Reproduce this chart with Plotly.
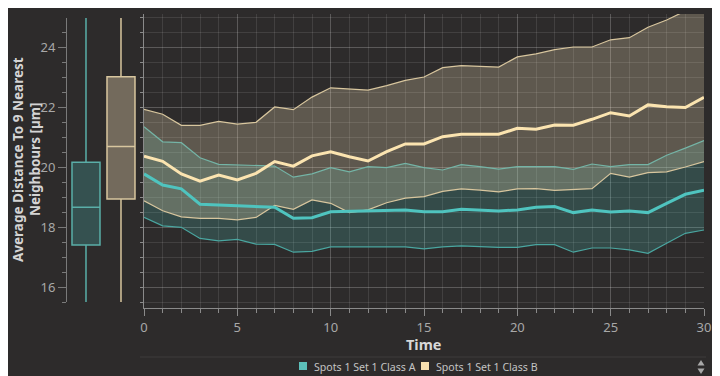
import plotly.graph_objects as go

time = list(range(31))

a_upper = [21.34, 20.84, 20.81, 20.31, 20.09, 20.07, 20.07, 20.03, 19.66, 19.77, 19.98, 19.84, 20.01, 19.98, 20.12, 19.98,
           19.90, 20.08, 20.01, 19.93, 20.01, 20.01, 20.01, 19.92, 20.10, 20.01, 20.08, 20.08, 20.39, 20.63, 20.88]
a_median = [19.77, 19.40, 19.27, 18.76, 18.73, 18.70, 18.68, 18.66, 18.29, 18.31, 18.51, 18.53, 18.54, 18.57, 18.57, 18.51,
            18.51, 18.59, 18.57, 18.53, 18.57, 18.66, 18.68, 18.48, 18.57, 18.50, 18.53, 18.48, 18.79, 19.09, 19.23]
a_lower = [18.32, 18.04, 17.99, 17.62, 17.54, 17.59, 17.43, 17.42, 17.16, 17.19, 17.34, 17.34, 17.32, 17.32, 17.34, 17.27,
           17.34, 17.37, 17.34, 17.32, 17.32, 17.41, 17.41, 17.16, 17.30, 17.30, 17.24, 17.12, 17.46, 17.79, 17.90]

b_upper = [21.92, 21.76, 21.39, 21.39, 21.52, 21.43, 21.49, 22.00, 21.91, 22.33, 22.64, 22.59, 22.56, 22.71, 22.89, 23.00,
           23.31, 23.38, 23.36, 23.33, 23.67, 23.77, 23.91, 24.00, 24.00, 24.24, 24.31, 24.66, 24.90, 25.20, 25.45]
b_median = [20.36, 20.19, 19.77, 19.53, 19.73, 19.57, 19.79, 20.18, 20.03, 20.37, 20.51, 20.34, 20.20, 20.51, 20.77, 20.77,
            21.01, 21.09, 21.09, 21.09, 21.29, 21.26, 21.40, 21.39, 21.59, 21.81, 21.70, 22.07, 22.01, 21.98, 22.32]
b_lower = [18.87, 18.54, 18.34, 18.29, 18.29, 18.24, 18.32, 18.72, 18.59, 18.90, 18.79, 18.48, 18.57, 18.81, 18.96, 19.01,
           19.19, 19.27, 19.23, 19.17, 19.27, 19.28, 19.22, 19.26, 19.28, 19.79, 19.66, 19.81, 19.84, 20.00, 20.18]

# box statistics: [lower fence, q1, median, q3, upper fence]
box_a = [15.0, 17.40, 18.66, 20.16, 26.0]
box_b = [15.0, 18.93, 20.68, 23.01, 26.0]

names = ["Spots 1 Set 1 Class A", "Spots 1 Set 1 Class B"]
legend_colors = ["#5cc0ba", "#f7e0b0"]
y_title_lines = ["Average Distance To 9 Nearest", "Neighbours [µm]"]

BG = "#2d2b2b"
TEAL = "#4fc4bf"
TEAL_THIN = "#4aa6a0"
TAN_THIN = "#d8c69e"
YELLOW = "#fbe4b0"
FONT = "Noto Sans"
TICKC = "#a8a8a8"

fig = go.Figure()

# Class A band
fig.add_trace(go.Scatter(x=time, y=a_lower, mode="lines", line=dict(color=TEAL_THIN, width=1.2),
                         showlegend=False, hoverinfo="skip"))
fig.add_trace(go.Scatter(x=time, y=a_upper, mode="lines", line=dict(color=TEAL_THIN, width=1.2),
                         fill="tonexty", fillcolor="rgba(79,196,191,0.21)", showlegend=False, hoverinfo="skip"))
# Class B band
fig.add_trace(go.Scatter(x=time, y=b_lower, mode="lines", line=dict(color=TAN_THIN, width=1.2),
                         showlegend=False, hoverinfo="skip"))
fig.add_trace(go.Scatter(x=time, y=b_upper, mode="lines", line=dict(color=TAN_THIN, width=1.2),
                         fill="tonexty", fillcolor="rgba(245,223,183,0.25)", showlegend=False, hoverinfo="skip"))
# medians
fig.add_trace(go.Scatter(x=time, y=b_median, mode="lines", line=dict(color=YELLOW, width=3),
                         name=names[1], showlegend=False))
fig.add_trace(go.Scatter(x=time, y=a_median, mode="lines", line=dict(color=TEAL, width=3),
                         name=names[0], showlegend=False))

# boxes
fig.add_trace(go.Box(x=[0], lowerfence=[box_a[0]], q1=[box_a[1]], median=[box_a[2]], q3=[box_a[3]],
                     upperfence=[box_a[4]], width=0.8, whiskerwidth=0, boxpoints=False,
                     fillcolor="rgba(79,196,191,0.25)", line=dict(color="#5aaea8", width=1.5),
                     xaxis="x2", yaxis="y2", showlegend=False))
fig.add_trace(go.Box(x=[1], lowerfence=[box_b[0]], q1=[box_b[1]], median=[box_b[2]], q3=[box_b[3]],
                     upperfence=[box_b[4]], width=0.8, whiskerwidth=0, boxpoints=False,
                     fillcolor="rgba(245,223,183,0.35)", line=dict(color="#d8c69e", width=1.5),
                     xaxis="x2", yaxis="y2", showlegend=False))

# page body has an 8px margin: draw a 712x368 figure and offset all target pixel positions
OFF = 8
W, H = 720 - OFF, 376 - OFF
ML, MR, MT, MB = 66 - OFF, 16, 14 - OFF, 68
PW = W - ML - MR
PH = H - MT - MB

def px(x):
    return (x - OFF - ML) / PW

def py(y):
    return (H - MB - (y - OFF)) / PH

annotations = []
for line_txt, lx in zip(y_title_lines, [18, 35]):
    annotations.append(dict(text="<b>%s</b>" % line_txt, textangle=-90,
                            x=px(lx), y=py(160), xref="paper", yref="paper",
                            xanchor="center", yanchor="middle", showarrow=False, borderpad=0,
                            font=dict(size=13.5, color="#d4d4d4", family=FONT)))
annotations.append(dict(text="<b>Time</b>", x=px(424), y=py(344), xref="paper", yref="paper",
                        xanchor="center", yanchor="middle", showarrow=False,
                        font=dict(size=14.5, color="#d8d8d8", family=FONT)))

shapes = [
    dict(type="line", xref="paper", yref="paper", x0=px(140), x1=px(706), y0=py(357), y1=py(357),
         line=dict(color="rgba(255,255,255,0.08)", width=1)),
]

# scroll arrows of the legend area
def tri(xc, ytip, ybase, half):
    return "M %f,%f L %f,%f L %f,%f Z" % (px(xc - half), py(ybase), px(xc + half), py(ybase),
                                          px(xc), py(ytip))

shapes.append(dict(type="path", xref="paper", yref="paper", path=tri(701, 360, 365.5, 3.5),
                   fillcolor="#a8a8a8", line=dict(width=0)))
shapes.append(dict(type="path", xref="paper", yref="paper", path=tri(701, 374, 368.5, 3.5),
                   fillcolor="#a8a8a8", line=dict(width=0)))

# legend (drawn manually to match the compact spacing)
legend_x = [303, 425]
for nm, col, lx in zip(names, legend_colors, legend_x):
    shapes.append(dict(type="rect", xref="paper", yref="paper",
                       x0=px(lx - 4), x1=px(lx + 4), y0=py(370), y1=py(362),
                       fillcolor=col, line=dict(width=0)))
    annotations.append(dict(text=nm, x=px(lx + 9), y=py(366.5), xref="paper", yref="paper",
                            xanchor="left", yanchor="middle", showarrow=False,
                            font=dict(size=10.6, color="#c4c4c4", family=FONT)))

fig.update_layout(
    width=W, height=H,
    margin=dict(l=ML, r=MR, t=MT, b=MB, autoexpand=False),
    paper_bgcolor=BG, plot_bgcolor=BG,
    font=dict(family=FONT, color=TICKC, size=12),
    xaxis=dict(domain=[px(144), 1], range=[0, 30], dtick=5, tick0=0,
               showgrid=True, gridcolor="rgba(255,255,255,0.22)", gridwidth=1,
               zeroline=False, showline=True, linecolor="#8a8a8a", linewidth=1,
               ticks="outside", ticklen=7, tickcolor="#8a8a8a",
               tickfont=dict(size=13, color=TICKC),
               minor=dict(dtick=1, showgrid=True, gridcolor="rgba(255,255,255,0.10)",
                          ticks="outside", ticklen=4, tickcolor="#8a8a8a"),
               anchor="y"),
    yaxis=dict(domain=[0, 1], range=[15.3, 25.1], dtick=2, tick0=16,
               showgrid=True, gridcolor="rgba(255,255,255,0.22)",
               zeroline=False, showline=True, linecolor="#8a8a8a", linewidth=1,
               showticklabels=False, ticks="outside", ticklen=3, tickcolor="#8a8a8a",
               minor=dict(dtick=0.5, showgrid=True, gridcolor="rgba(255,255,255,0.10)",
                          ticks="outside", ticklen=3, tickcolor="#8a8a8a"),
               anchor="x"),
    xaxis2=dict(domain=[0, px(140)], range=[-0.571, 1.543], visible=False, anchor="y2"),
    yaxis2=dict(domain=[py(302), py(18)], range=[15.5, 24.967], dtick=2, tick0=16,
                showgrid=False, zeroline=False, showline=True, linecolor="#7a7a7a",
                ticks="outside", ticklen=8, tickcolor="#7a7a7a",
                tickfont=dict(size=13, color=TICKC),
                minor=dict(dtick=0.5, ticks="outside", ticklen=4, tickcolor="#7a7a7a"),
                anchor="free", position=0),
    showlegend=False,
    annotations=annotations,
    shapes=shapes,
)

fig.write_html("out.html")
